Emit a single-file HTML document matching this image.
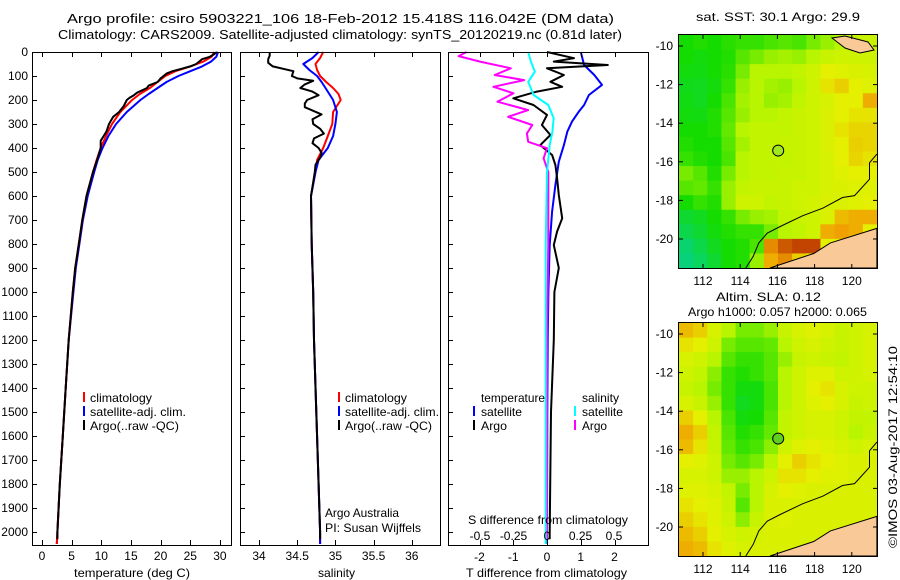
<!DOCTYPE html>
<html><head><meta charset="utf-8">
<style>
html,body{margin:0;padding:0;background:#fff;}
svg{display:block;font-family:"Liberation Sans",sans-serif;}
text{font-size:12px;fill:#000;}
.big{font-size:13px;}
</style></head>
<body>
<svg id="c" width="900" height="580" viewBox="0 0 900 580" xmlns="http://www.w3.org/2000/svg">
<text class="big" x="67" y="23" textLength="547" lengthAdjust="spacingAndGlyphs">Argo profile: csiro 5903221_106 18-Feb-2012 15.418S 116.042E (DM data)</text>
<text class="big" x="58" y="39" textLength="564" lengthAdjust="spacingAndGlyphs">Climatology: CARS2009. Satellite-adjusted climatology: synTS_20120219.nc (0.81d later)</text>
<text x="696" y="21" textLength="164" lengthAdjust="spacingAndGlyphs">sat. SST: 30.1 Argo: 29.9</text>
<text x="716" y="301" textLength="105" lengthAdjust="spacingAndGlyphs">Altim. SLA: 0.12</text>
<text x="688" y="316" textLength="179" lengthAdjust="spacingAndGlyphs">Argo h1000: 0.057 h2000: 0.065</text>
<text transform="translate(897,548) rotate(-90)" textLength="202" lengthAdjust="spacingAndGlyphs">©IMOS 03-Aug-2017 12:54:10</text>
<g id="g1"></g><g id="g2"></g><g id="g3"></g><g id="m1"></g><g id="m2"></g>
<g>
<rect x="83" y="392" width="2" height="10" fill="#f00"/><text x="90" y="402" textLength="62" lengthAdjust="spacingAndGlyphs">climatology</text>
<rect x="83" y="406" width="2" height="10" fill="#00f"/><text x="90" y="416" textLength="96" lengthAdjust="spacingAndGlyphs">satellite-adj. clim.</text>
<rect x="83" y="420" width="2" height="10" fill="#000"/><text x="90" y="430" textLength="89" lengthAdjust="spacingAndGlyphs">Argo(..raw -QC)</text>
</g>
<g>
<rect x="338" y="392" width="2" height="10" fill="#f00"/><text x="345" y="402" textLength="62" lengthAdjust="spacingAndGlyphs">climatology</text>
<rect x="338" y="406" width="2" height="10" fill="#00f"/><text x="345" y="416" textLength="94" lengthAdjust="spacingAndGlyphs">satellite-adj. clim.</text>
<rect x="338" y="420" width="2" height="10" fill="#000"/><text x="345" y="430" textLength="87" lengthAdjust="spacingAndGlyphs">Argo(..raw -QC)</text>
<text x="325" y="517" textLength="74" lengthAdjust="spacingAndGlyphs">Argo Australia</text>
<text x="325" y="532" textLength="96" lengthAdjust="spacingAndGlyphs">PI: Susan Wijffels</text>
</g>
<g>
<text x="481" y="402" textLength="64" lengthAdjust="spacingAndGlyphs">temperature</text><text x="582" y="402" textLength="37" lengthAdjust="spacingAndGlyphs">salinity</text>
<rect x="473" y="406" width="2" height="10" fill="#00f"/><text x="481" y="416" textLength="41" lengthAdjust="spacingAndGlyphs">satellite</text>
<rect x="473" y="420" width="2" height="10" fill="#000"/><text x="481" y="430" textLength="26" lengthAdjust="spacingAndGlyphs">Argo</text>
<rect x="574" y="406" width="2" height="10" fill="#0ff"/><text x="582" y="416" textLength="41" lengthAdjust="spacingAndGlyphs">satellite</text>
<rect x="574" y="420" width="2" height="10" fill="#f0f"/><text x="582" y="430" textLength="25" lengthAdjust="spacingAndGlyphs">Argo</text>
</g>
</svg>
<script>
// ---- profile data ----
const tDepth=[0,20,40,60,80,100,125,150,175,200,250,300,350,400,450,500,600,700,800,900,1000,1200,1400,1600,1800,2000,2050];
const tClim=[29.0,28.6,27.2,25,22.5,20.8,19.5,18.2,16.5,15.2,13.2,11.8,10.8,9.9,9.2,8.6,7.5,6.8,6.2,5.6,5.2,4.5,4,3.5,3,2.6,2.5];
const tSat=[29.7,29.4,28.5,27,25,23,21,19.5,18,16.6,14.3,12.5,11.2,10.2,9.4,8.8,7.7,6.9,6.3,5.7,5.3,4.5,4,3.5,3,2.6,2.5];
const tArgoDepth=[0,10,20,30,40,50,60,70,80,90,100,110,125,140,150,170,180,190,200,225,250,270,300,330,350,370,400,450,500,600,700,800,900,1000,1200,1400,1600,1800,2000,2030];
const tArgo=[29.5,29,28.3,27,26.5,26,25,23.5,22,21,20.5,20,19.5,18,17.7,16,15.5,14.8,14.3,13.8,13,12,11.3,10.9,10.4,9.9,9.9,9.3,8.6,7.5,6.8,6.2,5.6,5.2,4.5,4,3.5,3,2.6,2.6];
const sDepth=[0,25,50,75,100,125,150,175,200,250,300,350,400,450,500,600,800,1000,1200,1500,1800,2000,2050];
const sClim=[34.84,34.80,34.74,34.76,34.80,34.88,34.97,35.04,35.07,34.97,34.96,34.90,34.84,34.76,34.74,34.68,34.69,34.71,34.72,34.75,34.78,34.80,34.80];
const sSat=[34.78,34.70,34.58,34.66,34.76,34.82,34.87,34.92,34.97,35.02,35.00,34.97,34.90,34.78,34.74,34.68,34.69,34.71,34.72,34.75,34.78,34.80,34.80];
const sArgoDepth=[0,15,30,45,60,80,100,110,120,135,150,165,180,200,215,230,260,280,300,320,340,360,380,400,420,440,470,500,600,800,1000,1200,1500,1800,2000,2030];
const sArgo=[34.14,34.14,34.12,34.12,34.18,34.45,34.43,34.50,34.71,34.60,34.54,34.70,34.78,34.63,34.60,34.60,34.82,34.70,34.71,34.80,34.85,34.72,34.70,34.78,34.82,34.80,34.74,34.73,34.68,34.69,34.71,34.72,34.75,34.78,34.80,34.80];
const dtSatDepth=[0,54,96,137,179,221,249,290,332,388,457,554,665,804,1000,1200,1500,2000,2050];
const dtSat=[1.0,1.1,1.4,1.63,1.24,1.1,0.94,0.74,0.6,0.5,0.35,0.25,0.15,0.08,0.04,0.02,0.01,0,0];
const dtArgoDepth=[0,26,40,54,68,96,124,145,165,193,221,262,304,346,388,429,471,526,596,693,748,804,900,1000,1200,1500,2000,2030];
const dtArgo=[0,0.8,0.2,1.8,0,0.5,0.1,0.45,-0.3,-1.0,-0.4,0,-0.15,0.1,-0.2,0.15,0.25,0.3,0.35,0.45,0.3,0.2,0.35,0.22,0.2,0.12,0.08,0.08];
const dsArgoDepth=[0,17,40,68,96,117,145,172,207,242,270,304,339,374,401,443,500,800,1200,2000,2030];
const dsArgo=[-0.6,-0.66,-0.5,-0.27,-0.39,-0.17,-0.4,-0.25,-0.37,-0.14,-0.29,-0.11,-0.15,-0.14,0,-0.025,0.01,0.01,0,0,0];
const dsSatDepth=[0,40,82,124,179,221,276,332,388,500,800,1200,2000,2050];
const dsSat=[-0.14,-0.12,-0.09,-0.14,-0.1,0.01,0.05,0.04,0.02,0,-0.01,-0.01,-0.01,-0.01];
const depthTicks=[0,100,200,300,400,500,600,700,800,900,1000,1100,1200,1300,1400,1500,1600,1700,1800,1900,2000];
const tTicks=[0,5,10,15,20,25,30];
const sTicks=[34,34.5,35,35.5,36];
const sTickLabels=["34","34.5","35","35.5","36"];
const dtTicks=[-2,-1,0,1,2];
const dsTicks=[-0.5,-0.25,0,0.25,0.5];
const dsTickLabels=["-0.5","-0.25","0","0.25","0.5"];
// ---- map data (0..1 colour index) ----
const sstGrid=[
[.30,.32,.30,.33,.35,.35,.38,.40,.38,.45,.50,.55,.60,.60],
[.30,.28,.30,.32,.40,.45,.50,.52,.50,.55,.60,.62,.62,.62],
[.28,.27,.30,.33,.45,.55,.55,.55,.58,.62,.70,.68,.66,.65],
[.26,.25,.28,.35,.50,.55,.52,.50,.55,.62,.72,.75,.70,.68],
[.27,.25,.30,.38,.52,.55,.50,.52,.58,.62,.65,.70,.70,.80],
[.28,.27,.32,.40,.50,.55,.55,.58,.60,.62,.66,.70,.72,.72],
[.30,.30,.32,.42,.55,.58,.58,.58,.60,.62,.66,.72,.74,.74],
[.32,.30,.30,.40,.52,.58,.58,.60,.60,.62,.66,.70,.75,.74],
[.35,.32,.30,.38,.55,.58,.58,.58,.60,.62,.65,.70,.74,.72],
[.45,.40,.32,.45,.55,.58,.58,.60,.60,.62,.65,.68,.70,.70],
[.40,.42,.35,.50,.58,.60,.60,.60,.62,.62,.65,.66,.68,.68],
[.30,.35,.32,.50,.62,.62,.58,.60,.62,.64,.66,.66,.68,.70],
[.22,.25,.30,.35,.45,.50,.52,.58,.60,.62,.66,.78,.80,.80],
[.18,.22,.28,.32,.35,.35,.45,.55,.58,.62,.80,.82,.80,.70],
[.12,.18,.25,.30,.32,.38,.85,.92,.95,.95,.70,.70,.70,.70],
[.10,.15,.22,.30,.32,.50,.80,.85,.75,.70,.70,.70,.70,.70]];
const slaGrid=[
[.78,.75,.65,.55,.45,.45,.50,.60,.65,.68,.65,.60,.62,.65],
[.72,.70,.62,.45,.40,.40,.42,.55,.62,.65,.62,.60,.62,.65],
[.65,.62,.55,.40,.35,.35,.40,.50,.60,.62,.60,.58,.62,.65],
[.62,.58,.48,.35,.32,.35,.40,.55,.62,.68,.68,.62,.62,.65],
[.60,.55,.45,.35,.28,.28,.38,.55,.62,.70,.72,.65,.62,.62],
[.65,.60,.50,.35,.25,.28,.38,.55,.62,.68,.70,.65,.60,.62],
[.75,.70,.55,.38,.28,.30,.40,.58,.62,.65,.65,.62,.58,.58],
[.80,.75,.58,.40,.32,.35,.42,.58,.62,.65,.65,.62,.55,.60],
[.78,.72,.60,.42,.35,.38,.48,.62,.68,.70,.68,.65,.62,.65],
[.70,.68,.62,.45,.40,.45,.55,.70,.75,.72,.70,.68,.66,.66],
[.65,.65,.62,.50,.50,.55,.62,.72,.72,.70,.68,.68,.66,.66],
[.68,.68,.65,.58,.45,.55,.65,.70,.68,.66,.66,.66,.66,.66],
[.72,.70,.68,.60,.40,.55,.66,.66,.66,.66,.66,.66,.66,.66],
[.75,.72,.68,.62,.48,.60,.66,.68,.66,.66,.66,.66,.66,.66],
[.78,.75,.70,.65,.62,.64,.66,.66,.66,.66,.66,.66,.66,.66],
[.80,.78,.72,.68,.65,.66,.66,.66,.66,.66,.66,.66,.66,.66]];
const lonTicks=[112,114,116,118,120];
const latTicks=[-10,-12,-14,-16,-18,-20];
const argoLon=116.042, argoLat=-15.418;
const coastLon=[121.35,120.95,120.95,120.15,119.5,118.45,117.35,116.15,115.45,115.0,114.7,114.3];
const coastLat=[-15.6,-16.05,-16.9,-17.75,-17.85,-18.4,-18.8,-19.35,-19.7,-20.2,-20.9,-21.5];
const landLon=[121.35,118.85,117.95,115.6,121.35];
const landLat=[-19.45,-20.2,-20.75,-21.5,-21.5];

const NS='http://www.w3.org/2000/svg';
function mk(parent,tag,attrs){const e=document.createElementNS(NS,tag);for(const k in attrs)e.setAttribute(k,attrs[k]);parent.appendChild(e);return e;}
const yD=d=>52+d*0.24;
const P1={x0:32,x1:231},P2={x0:240,x1:440},P3={x0:448,x1:648};
const PY0=52,PY1=545;
const xT=v=>42+v*5.93, xS=v=>259+(v-34)*76.4, xDT=v=>547+v*33.75, xDS=v=>547+v*134;
function poly(g,xs,ds,fx,col,w,name){
  const pts=xs.map((v,i)=>fx(v).toFixed(1)+','+yD(ds[i]).toFixed(1)).join(' ');
  const e=mk(g,'polyline',{points:pts,fill:'none',stroke:col,'stroke-width':w,'stroke-linejoin':'round'});
  
  
}
function frame(g,P,name){
  const r=mk(g,'rect',{x:P.x0+0.5,y:PY0+0.5,width:P.x1-P.x0,height:PY1-PY0,fill:'none',stroke:'#000'});
  
  
  depthTicks.forEach(d=>{mk(g,'line',{x1:P.x0,x2:P.x0+5,y1:yD(d)+0.5,y2:yD(d)+0.5,stroke:'#000'});});
}
function xticks(g,ticks,labels,fx,y,name,top){
  ticks.forEach((t,i)=>{
    const x=Math.round(fx(t))+0.5;
    mk(g,'line',{x1:x,x2:x,y1:PY1,y2:PY1-5,stroke:'#000'});
    if(top)mk(g,'line',{x1:x,x2:x,y1:PY0,y2:PY0+5,stroke:'#000'});
    if(labels){const e=mk(g,'text',{x:fx(t),y:y,'text-anchor':'middle'});e.textContent=labels[i];
      
      }
  });
}
// panel 1
const g1=document.getElementById('g1');
poly(g1,tSat,tDepth,xT,'#00f',2,'temp-satellite-line');
poly(g1,tClim,tDepth,xT,'#f00',2,'temp-climatology-line');
poly(g1,tArgo,tArgoDepth,xT,'#000',2,'temp-argo-line');
frame(g1,P1,'temperature-panel');
depthTicks.forEach(d=>{const e=mk(g1,'text',{x:28,y:yD(d)+4,'text-anchor':'end'});e.textContent=d;
  
  });
xticks(g1,tTicks,tTicks.map(String),xT,560,'temp-tick-label',true);
{const e=mk(g1,'text',{x:74,y:577,textLength:116,lengthAdjust:'spacingAndGlyphs'});e.textContent='temperature (deg C)';}
// panel 2
const g2=document.getElementById('g2');
poly(g2,sClim,sDepth,xS,'#f00',2,'sal-climatology-line');
poly(g2,sSat,sDepth,xS,'#00f',2,'sal-satellite-line');
poly(g2,sArgo,sArgoDepth,xS,'#000',2,'sal-argo-line');
frame(g2,P2,'salinity-panel');
xticks(g2,sTicks,sTickLabels,xS,560,'sal-tick-label',true);
{const e=mk(g2,'text',{x:318,y:577,textLength:37,lengthAdjust:'spacingAndGlyphs'});e.textContent='salinity';}
// panel 3
const g3=document.getElementById('g3');
poly(g3,dtSat,dtSatDepth,xDT,'#00f',2,'tdiff-satellite-line');
poly(g3,dtArgo,dtArgoDepth,xDT,'#000',2,'tdiff-argo-line');
poly(g3,dsArgo,dsArgoDepth,xDS,'#f0f',2,'sdiff-argo-line');
poly(g3,dsSat,dsSatDepth,xDS,'#0ff',2,'sdiff-satellite-line');
frame(g3,P3,'difference-panel');
xticks(g3,dtTicks,dtTicks.map(String),xDT,561,'tdiff-tick-label',true);
dsTicks.forEach((t,i)=>{const e=mk(g3,'text',{x:xDS(t),y:540,'text-anchor':'middle'});e.textContent=dsTickLabels[i];
  
  });
{const e=mk(g3,'text',{x:468,y:524,textLength:160,lengthAdjust:'spacingAndGlyphs'});e.textContent='S difference from climatology';}
{const e=mk(g3,'text',{x:466,y:577,textLength:161,lengthAdjust:'spacingAndGlyphs'});e.textContent='T difference from climatology';}
// maps
const stops=[[0,[0,205,185]],[0.3,[20,220,0]],[0.55,[185,245,0]],[0.7,[228,240,0]],[0.82,[240,160,0]],[1,[176,32,0]]];
function cmap(v){for(let i=1;i<stops.length;i++){if(v<=stops[i][0]){const a=stops[i-1],b=stops[i],f=(v-a[0])/(b[0]-a[0]);
  return 'rgb('+a[1].map((c,j)=>Math.round(c+(b[1][j]-c)*f)).join(',')+')';}}return 'rgb(176,32,0)';}
const MX0=679,MX1=877;
const xL=lon=>703+(lon-112)*18.6;
function drawMap(id,grid,top,name,dotCol){
  const g=document.getElementById(id);
  const bottom=top+233;
  const yL=lat=>top+11+(-10-lat)*19.3;
  const rows=grid.length,cols=grid[0].length;
  const cw=(MX1-MX0)/cols,ch=(bottom-top)/rows;
  grid.forEach((row,r)=>row.forEach((v,c)=>{
    const e=mk(g,'rect',{x:(MX0+c*cw).toFixed(2),y:(top+r*ch).toFixed(2),width:(cw+0.6).toFixed(2),height:(ch+0.6).toFixed(2),fill:cmap(v)});
    
    
  }));
  const land=mk(g,'polygon',{points:landLon.map((l,i)=>xL(l).toFixed(1)+','+yL(landLat[i]).toFixed(1)).join(' '),fill:'#f9c998',stroke:'#000','stroke-width':1});
  
  
  if(id==='m1'){const e=mk(g,'path',{d:'M832,38 L845,36 L868,42 L874,50 L860,53 L845,48 Z',fill:'#f9c998',stroke:'#000'});
    
    }
  const cl=mk(g,'polyline',{points:coastLon.map((l,i)=>xL(l).toFixed(1)+','+yL(coastLat[i]).toFixed(1)).join(' '),fill:'none',stroke:'#000','stroke-width':1});
  
  
  const dot=mk(g,'circle',{cx:xL(argoLon),cy:yL(argoLat),r:5.5,fill:dotCol,stroke:'#000'});
  
  
  const fr=mk(g,'rect',{x:MX0-0.5,y:top-0.5,width:MX1-MX0+1,height:bottom-top+1,fill:'none',stroke:'#000'});
  
  
  lonTicks.forEach(l=>{const x=xL(l);mk(g,'line',{x1:x,x2:x,y1:bottom,y2:bottom-4,stroke:'#000'});mk(g,'line',{x1:x,x2:x,y1:top,y2:top+4,stroke:'#000'});
    const e=mk(g,'text',{x:x,y:bottom+17,'text-anchor':'middle'});e.textContent=l;
    
    });
  latTicks.forEach(l=>{const y=yL(l);mk(g,'line',{x1:MX0,x2:MX0+4,y1:y,y2:y,stroke:'#000'});mk(g,'line',{x1:MX1,x2:MX1-4,y1:y,y2:y,stroke:'#000'});
    const e=mk(g,'text',{x:673,y:y+4,'text-anchor':'end'});e.textContent=l;
    
    });
}
drawMap('m1',sstGrid,35,'sst-map','#a0e820');
drawMap('m2',slaGrid,323,'sla-map','#60d020');
</script>
</body></html>
